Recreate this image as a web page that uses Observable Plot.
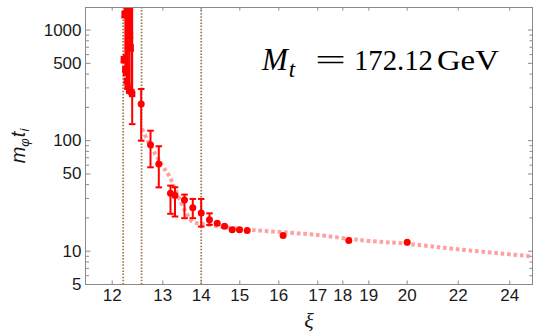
<!DOCTYPE html>
<html><head><meta charset="utf-8">
<script src="https://cdn.jsdelivr.net/npm/d3@7"></script>
<script src="https://cdn.jsdelivr.net/npm/@observablehq/plot@0.6"></script>
<style>body{margin:0;background:#fff;} #c{width:533px;height:335px;overflow:hidden;}</style>
</head><body><div id="c"></div>
<script>
// ---- axis configuration ----
const xiTicks = [12, 13, 14, 15, 16, 17, 18, 19, 20, 22, 24];
const yMajor = [5, 10, 50, 100, 500, 1000];
const yMinor = [6, 7, 8, 9, 20, 30, 40, 60, 70, 80, 90, 200, 300, 400, 600, 700, 800, 900];
// piecewise (non-uniform) xi axis breakpoints, as drawn in the reference
const xBreaks = [11.5, 12, 13, 14, 15, 16, 17, 18, 19, 20, 22, 24, 25];
const xBreakPx = [86, 111.7, 162.3, 200.7, 239.3, 278.3, 317.3, 342.3, 368.3, 406.7, 457.7, 509.3, 535];

// ---- vertical reference lines ----
const vLines = [12.217, 12.58, 14.0];

// ---- near-critical cluster (squares) ----
const clusterXi = [12.23, 12.245, 12.26, 12.275, 12.29, 12.305, 12.32, 12.335, 12.35, 12.365, 12.38, 12.395];
const clusterV  = [547, 1400, 447, 411, 348, 307, 1100, 283, 900, 700, 275, 264];
const clusterLo = [510, 1300, 420, 390, 330, 295, 1000, 275, 850, 650, 270, 141];
const clusterHi = [600, 3000, 3000, 3000, 3000, 3000, 3000, 3000, 3000, 3000, 3000, 3000];

// ---- measured points (circles) ----
const ptXi = [12.573, 12.757, 12.921, 13.20, 13.318, 13.565, 13.781, 14.0, 14.215, 14.415, 14.604, 14.803, 14.992, 15.19, 16.11, 18.23, 20.0];
const ptV  = [215, 92, 61.6, 33.4, 31.9, 29.1, 24.7, 22.2, 19.3, 17.9, 16.8, 15.6, 15.6, 15.4, 13.9, 12.5, 12.05];
const ptLo = [100, 57.4, 37.8, 21.8, 20.6, 19.9, 19.9, 16.7, 17.3, 17.9, 16.8, 15.6, 15.6, 15.4, 13.9, 12.5, 12.05];
const ptHi = [293, 123, 88.9, 39.2, 37.9, 32.5, 29.7, 29.7, 22.0, 17.9, 16.8, 15.6, 15.6, 15.4, 13.9, 12.5, 12.05];

// ---- fitted curve (dashed pink) ----
const fitXi = [12.59, 12.70, 12.82, 12.99, 13.16, 13.30, 13.45, 13.60, 13.77, 14.0, 14.5, 15.27, 16.11, 17.0, 18.23, 19.0, 20.0, 22.0, 24.9];
const fitV  = [128, 100, 80.4, 59.4, 48.3, 38, 29, 22.5, 18.5, 17.7, 16.7, 15.6, 14.85, 14.0, 12.94, 12.4, 11.67, 10.4, 8.96];

const W = 533, H = 335, ML = 85, MR = 1, MT = 7, MB = 51;
const PW = W - ML - MR, PH = H - MT - MB;

const cluster = clusterXi.map((x, i) => ({x, v: clusterV[i], lo: clusterLo[i], hi: clusterHi[i]}));
const pts = ptXi.map((x, i) => ({x, v: ptV[i], lo: ptLo[i], hi: ptHi[i]}));
const bars = pts.filter(d => d.hi > d.v * 1.02 || d.lo < d.v * 0.98);
const fit = fitXi.map((x, i) => ({x, v: fitV[i]}));

const cap = {draw(ctx, size) { const r = Math.sqrt(size / Math.PI); ctx.moveTo(-r, 0); ctx.lineTo(r, 0); }};
const RED = "#ff0000", GRAY = "#8a8a8a", INK = "#1a1a1a";

const plot = Plot.plot({
  width: W, height: H,
  marginLeft: ML, marginRight: MR, marginTop: MT, marginBottom: MB,
  style: {fontFamily: "Liberation Sans, Arial, sans-serif", fontSize: "17px", color: INK, background: "#fff"},
  x: {type: "linear", domain: xBreaks, range: xBreakPx, axis: null},
  y: {type: "log", domain: [5, 1600], axis: null},
  marks: [
    Plot.ruleX(vLines, {x: d => d, stroke: "#a07a48", strokeWidth: 1.8, strokeDasharray: "1.5 1.6"}),
    Plot.line(fit, {x: "x", y: "v", stroke: "#ff9090", strokeOpacity: 0.85, strokeWidth: 4, strokeDasharray: "3.6 2.8", strokeLinecap: "butt", curve: "catmull-rom", clip: true}),
    Plot.ruleX(cluster, {x: "x", y1: "lo", y2: "hi", stroke: RED, strokeWidth: 2, clip: true}),
    Plot.dot(cluster, {x: "x", y: "lo", symbol: cap, r: 3.3, stroke: RED, strokeWidth: 2, clip: true}),
    Plot.ruleX(bars, {x: "x", y1: "lo", y2: "hi", stroke: RED, strokeWidth: 2}),
    Plot.dot(bars, {x: "x", y: "lo", symbol: cap, r: 3.3, stroke: RED, strokeWidth: 2}),
    Plot.dot(bars, {x: "x", y: "hi", symbol: cap, r: 3.3, stroke: RED, strokeWidth: 2}),
    Plot.dot(cluster, {x: "x", y: "v", symbol: "square", r: 3.6, fill: RED, clip: true}),
    Plot.dot(pts, {x: "x", y: "v", r: 3.5, fill: RED}),
    // inward ticks
    Plot.ruleY(yMajor, {y: d => d, insetRight: PW - 5.5, stroke: GRAY}),
    Plot.ruleY(yMinor, {y: d => d, insetRight: PW - 4, stroke: GRAY}),
    Plot.ruleY(yMajor, {y: d => d, insetLeft: PW - 4, stroke: GRAY}),
    Plot.ruleY(yMinor, {y: d => d, insetLeft: PW - 2.5, stroke: GRAY}),
    Plot.ruleX(xiTicks, {x: d => d, insetTop: PH - 3.5, stroke: GRAY}),
    Plot.ruleX(xiTicks, {x: d => d, insetBottom: PH - 3.5, stroke: GRAY}),
    Plot.frame({stroke: GRAY}),
    // tick labels
    Plot.text(xiTicks, {x: d => d, frameAnchor: "bottom", lineAnchor: "top", dy: 4, text: d => String(d), fontSize: 17, fill: INK}),
    Plot.text(yMajor, {y: d => d, frameAnchor: "left", textAnchor: "end", dx: -4, text: d => String(d), fontSize: 17, fill: INK})
  ]
});
document.getElementById("c").appendChild(plot);

const svg = d3.select(plot);
const sx = plot.scale("x"), sy = plot.scale("y");

// annotation M_t = 172.12 GeV
const ax = sx.apply(15.58), ay = sy.apply(430);
const t = svg.append("text").attr("x", ax).attr("y", ay).attr("text-anchor", "start")
  .attr("font-family", "Liberation Serif, Times New Roman, serif").attr("font-size", 30).attr("fill", "#000");
t.append("tspan").attr("font-style", "italic").attr("font-size", 31).text("M");
t.append("tspan").attr("font-style", "italic").attr("font-size", 23).attr("dy", 7).attr("dx", 1).text("t");
t.append("tspan").attr("x", ax + 53).attr("dy", -7).attr("textLength", 31).attr("lengthAdjust", "spacingAndGlyphs").text("=");
t.append("tspan").attr("x", ax + 92).attr("textLength", 79).attr("lengthAdjust", "spacingAndGlyphs").text("172.12");
t.append("tspan").attr("x", ax + 175).attr("textLength", 62).attr("lengthAdjust", "spacingAndGlyphs").text("GeV");

// x label
svg.append("text").attr("x", 309).attr("y", 328).attr("text-anchor", "middle")
  .attr("font-family", "Liberation Serif, Times New Roman, serif").attr("font-style", "italic")
  .attr("font-size", 22).attr("fill", INK).text("ξ");

// y label m_φ t_i
const yl = svg.append("text").attr("transform", "translate(25,146) rotate(-90)").attr("text-anchor", "middle")
  .attr("font-family", "Liberation Sans, Arial, sans-serif").attr("font-style", "italic")
  .attr("font-size", 20).attr("fill", INK);
yl.append("tspan").text("m");
yl.append("tspan").attr("font-size", 13).attr("dy", 4).text("φ");
yl.append("tspan").attr("dy", -4).attr("dx", 1).text("t");
yl.append("tspan").attr("font-size", 13).attr("dy", 4).text("i");
</script>
</body></html>
